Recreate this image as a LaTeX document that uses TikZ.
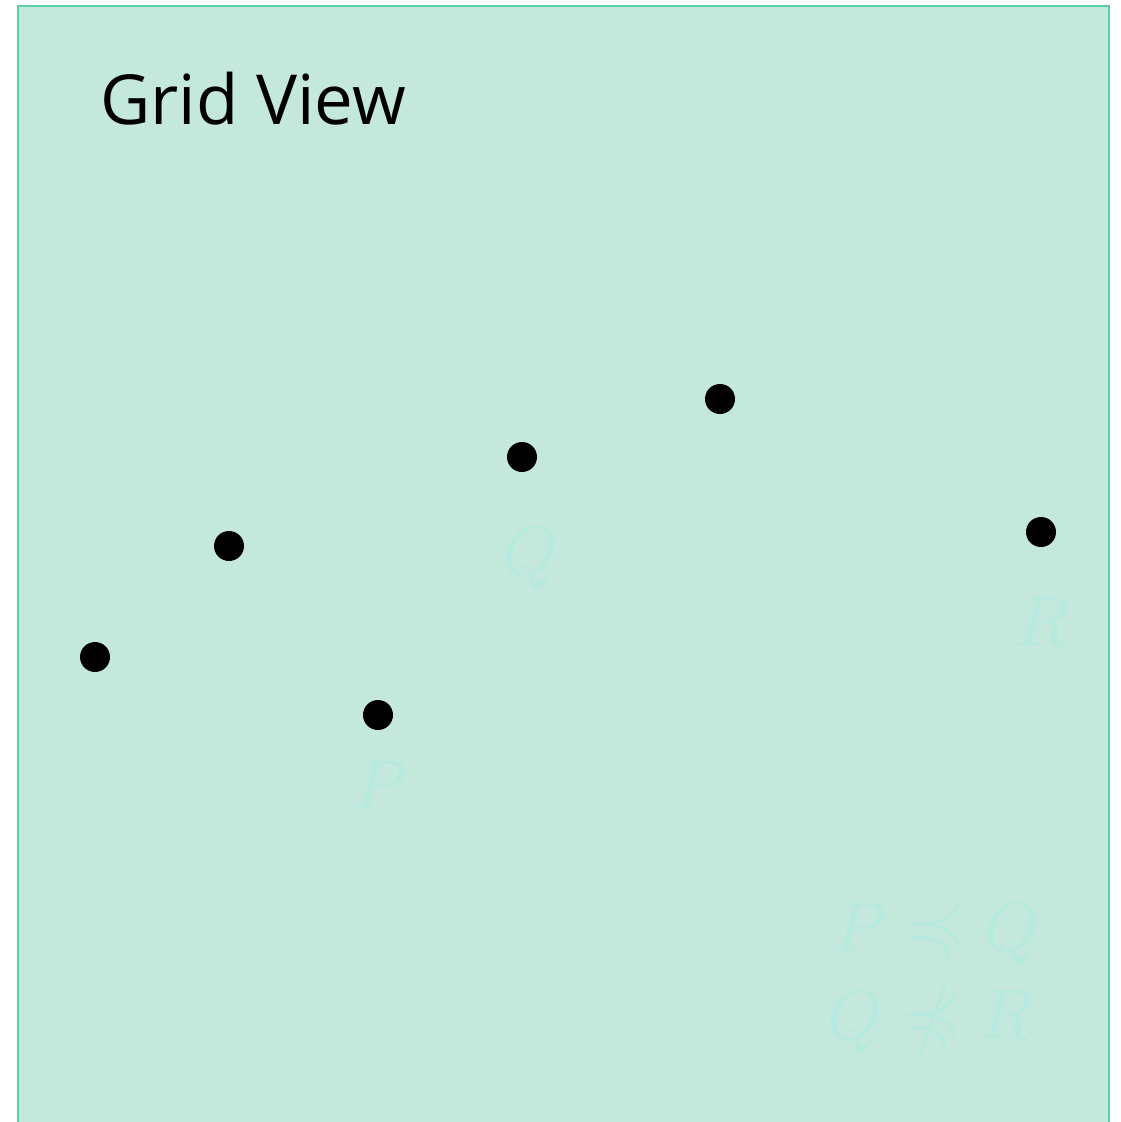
\documentclass[tikz,border=0pt]{standalone}
\usepackage{fontspec}
\usepackage{unicode-math}
\setmathfont{Latin Modern Math}
\newfontfamily\titlefont{Open Sans}
\definecolor{panelfill}{HTML}{C4E8DC}
\definecolor{panelline}{HTML}{5CCFA9}
\definecolor{faint}{HTML}{B6EADF}
\tikzset{
  dot/.style={circle,fill=black,inner sep=0pt,minimum size=30pt},
  faintlbl/.style={text=faint,inner sep=0pt,font=\fontsize{70}{84}\selectfont},
  faintrel/.style={text=faint,inner sep=0pt,font=\fontsize{78}{94}\selectfont},
}
\begin{document}
\begin{tikzpicture}[x=1pt,y=-1pt]
\useasboundingbox (0,0) rectangle (1120,1122);
\path[fill=panelfill,draw=panelline,line width=2pt] (18,1140) -- (18,6) -- (1109,6) -- (1109,1140);
\node[anchor=base west,inner sep=0pt,font=\titlefont\fontsize{69}{83}\selectfont] (title) at (100,124) {Grid View};
\node[dot] (d1) at (95,657) {};
\node[dot] (d2) at (229,546) {};
\node[dot] (d3) at (378,715) {};
\node[dot] (d4) at (522,457) {};
\node[dot] (d5) at (720,399) {};
\node[dot] (d6) at (1041,532) {};
\node[faintlbl] (lq) at (530,558) {$Q$};
\node[faintlbl] (lr) at (1043,622) {$R$};
\node[faintlbl] (lp) at (380,786) {$P$};
\node[faintlbl] (r1p) at (860,928) {$P$};
\node[faintrel] (r1s) at (936,932) {$≼$};
\node[faintlbl] (r1q) at (1012,934) {$Q$};
\node[faintlbl] (r2q) at (855,1022) {$Q$};
\node[faintrel] (r2s) at (932,1022) {$⋠$};
\node[faintlbl] (r2r) at (1007,1015) {$R$};
\end{tikzpicture}
\end{document}
